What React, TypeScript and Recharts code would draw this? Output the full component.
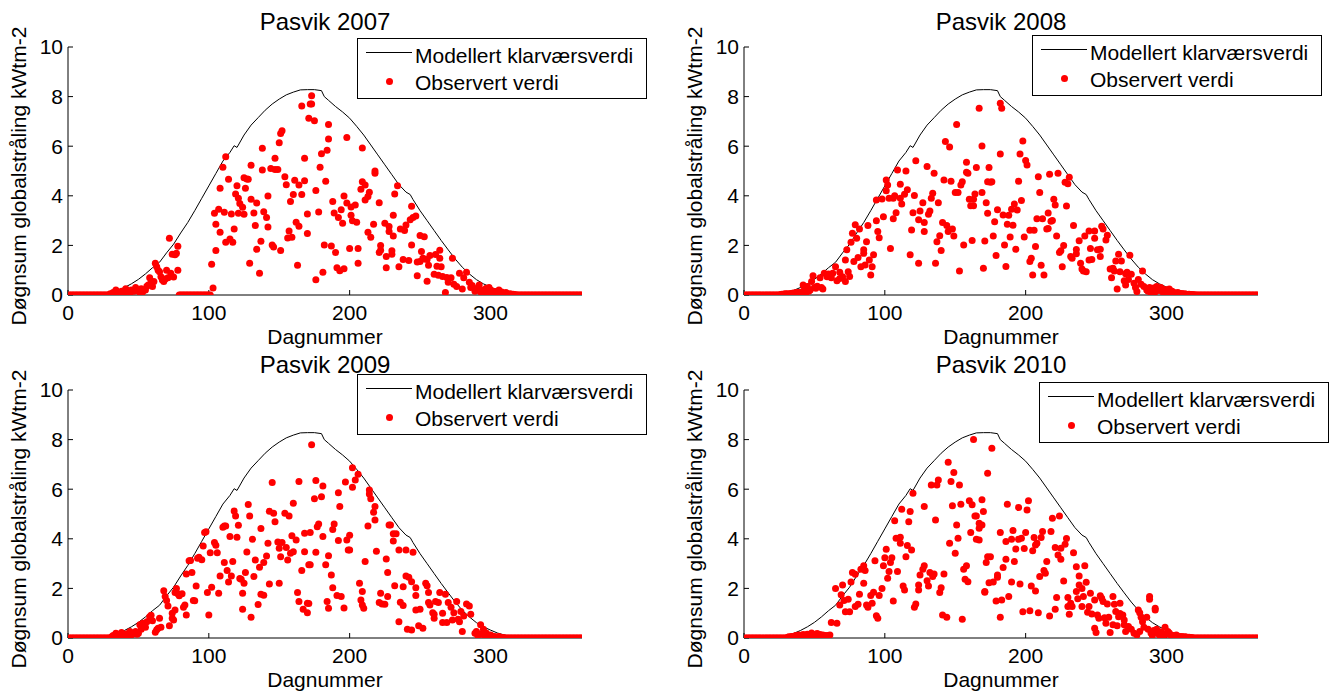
import { ComposedChart, Legend, Line, Scatter, XAxis, YAxis } from "recharts";

const FONT = '"Liberation Sans", Arial, Helvetica, sans-serif';

// modelled clear-sky daily sum, [day, kWh/m2]
const modelCurve = [
  [0, 0], [10, 0], [20, 0.01], [25, 0.03], [30, 0.1], [35, 0.18], [40, 0.3], [45, 0.45], [50, 0.63],
  [55, 0.85], [60, 1.1], [65, 1.32], [70, 1.7], [75, 2.05], [80, 2.5], [85, 2.92], [90, 3.4], [95, 3.9],
  [100, 4.4], [105, 4.9], [110, 5.4], [115, 5.75], [118, 6.02], [120, 5.95], [125, 6.45], [130, 6.85],
  [135, 7.15], [140, 7.45], [145, 7.7], [150, 7.9], [155, 8.07], [160, 8.18], [165, 8.27], [170, 8.28],
  [175, 8.28], [180, 8.24], [182, 8.0], [185, 7.85], [190, 7.6], [195, 7.38], [200, 7.13], [205, 6.8],
  [210, 6.45], [215, 6.05], [220, 5.65], [225, 5.25], [230, 4.85], [235, 4.45], [240, 4.15], [243, 4.05],
  [244, 3.95], [245, 3.85], [250, 3.4], [255, 3.0], [260, 2.6], [265, 2.2], [270, 1.82], [275, 1.45],
  [280, 1.12], [285, 0.85], [290, 0.62], [295, 0.45], [300, 0.32], [305, 0.2], [310, 0.12], [315, 0.06],
  [320, 0.03], [325, 0.01], [330, 0], [365, 0]
];

const xTicks = [0, 100, 200, 300];
const yTicks = [0, 2, 4, 6, 8, 10];

// days with zero observed radiation
const zeros2007 = [
  1, 2, 3, 4, 5, 6, 7, 8, 9, 10, 11, 12, 13, 14, 15, 16, 17, 18, 19, 20, 21, 22, 23, 24, 25, 26, 27, 28, 29,
  79, 80, 81, 82, 83, 84, 85, 86, 87, 88, 89, 90, 91, 92, 93, 94, 95, 96, 97, 98, 99, 100, 101,
  319, 320, 321, 322, 323, 324, 325, 326, 327, 328, 329, 330, 331, 332, 333, 334, 335, 336, 337, 338, 339, 340,
  341, 342, 343, 344, 345, 346, 347, 348, 349, 350, 351, 352, 353, 354, 355, 356, 357, 358, 359, 360, 361, 362,
  363, 364, 365
];
const zeros2008 = [
  1, 2, 3, 4, 5, 6, 7, 8, 9, 10, 11, 12, 13, 14, 15, 16, 17, 18, 19, 20, 21, 22, 23, 24, 25,
  324, 325, 326, 327, 328, 329, 330, 331, 332, 333, 334, 335, 336, 337, 338, 339, 340, 341, 342, 343, 344, 345,
  346, 347, 348, 349, 350, 351, 352, 353, 354, 355, 356, 357, 358, 359, 360, 361, 362, 363, 364, 365
];
const zeros2009 = [
  1, 2, 3, 4, 5, 6, 7, 8, 9, 10, 11, 12, 13, 14, 15, 16, 17, 18, 19, 20, 21, 22, 23, 24, 25, 26, 27, 28, 29, 30,
  312, 313, 314, 315, 316, 317, 318, 319, 320, 321, 322, 323, 324, 325, 326, 327, 328, 329, 330, 331, 332, 333,
  334, 335, 336, 337, 338, 339, 340, 341, 342, 343, 344, 345, 346, 347, 348, 349, 350, 351, 352, 353, 354, 355,
  356, 357, 358, 359, 360, 361, 362, 363, 364, 365
];
const zeros2010 = [
  1, 2, 3, 4, 5, 6, 7, 8, 9, 10, 11, 12, 13, 14, 15, 16, 17, 18, 19, 20, 21, 22, 23, 24, 25, 26, 27, 28, 29, 30,
  320, 321, 322, 323, 324, 325, 326, 327, 328, 329, 330, 331, 332, 333, 334, 335, 336, 337, 338, 339, 340, 341,
  342, 343, 344, 345, 346, 347, 348, 349, 350, 351, 352, 353, 354, 355, 356, 357, 358, 359, 360, 361, 362, 363,
  364, 365
];

// observed daily sums, [day, kWh/m2]
const obs2007 = [
  [30, 0.05], [32, 0.1], [34, 0.2], [35, 0.05], [36, 0.08], [38, 0.15], [40, 0.1], [41, 0.25], [43, 0.12],
  [44, 0.05], [45, 0.2], [47, 0.15], [48, 0.3], [50, 0.18], [51, 0.1], [52, 0.25], [53, 0.12], [55, 0.2],
  [56, 0.35], [57, 0.4], [58, 0.7], [59, 0.5], [60, 0.34], [61, 0.54], [62, 1.28], [63, 1.14], [64, 1.0],
  [65, 0.94], [66, 0.74], [67, 0.6], [68, 0.54], [69, 0.65], [70, 1.0], [71, 0.7], [72, 2.29], [73, 0.88],
  [74, 1.64], [75, 0.73], [76, 1.62], [77, 1.68], [78, 1.97], [78, 1.0],
  [103, 0.28], [102, 1.24], [104, 3.3], [105, 2.85], [105, 1.79], [107, 3.46], [108, 4.3], [108, 2.53],
  [110, 5.15], [111, 3.34], [112, 5.57], [112, 2.13], [114, 4.67], [115, 2.26], [116, 3.27], [117, 2.13],
  [118, 2.66], [119, 4.07], [120, 4.41], [121, 3.3], [121, 3.9], [122, 3.69], [124, 3.54], [125, 3.26],
  [125, 4.73], [126, 4.3], [127, 4.68], [128, 4.67], [129, 1.28], [130, 5.23], [130, 3.86], [132, 3.31],
  [133, 2.8], [134, 3.71], [134, 1.84], [136, 0.88], [137, 2.17], [138, 5.92], [138, 5.04], [139, 3.36],
  [141, 3.12], [142, 2.74], [142, 3.99], [144, 5.1], [145, 2.02], [146, 1.94], [147, 5.06], [147, 5.51],
  [149, 5.06], [150, 6.14], [151, 1.79], [151, 6.51], [152, 6.62], [154, 4.77], [155, 4.45], [156, 2.3],
  [157, 2.58], [158, 3.77], [159, 2.33], [160, 4.05], [161, 4.63], [162, 2.93], [163, 1.2], [164, 2.77],
  [164, 4.44], [166, 7.62], [166, 4.05], [168, 5.51], [168, 4.61], [170, 3.27], [170, 2.48], [171, 7.13],
  [172, 7.7], [173, 8.03], [173, 7.7], [175, 7.03], [185, 6.88], [198, 6.35], [185, 6.29], [209, 5.93],
  [184, 5.84], [180, 5.7], [179, 5.15], [218, 5.0], [218, 4.91], [183, 4.59], [209, 4.57], [234, 4.41],
  [211, 4.44], [176, 4.21], [208, 4.26], [214, 4.14], [232, 4.07], [213, 3.97], [196, 3.99], [211, 3.83],
  [188, 3.77], [198, 3.71], [221, 3.72], [204, 3.63], [201, 3.55], [194, 3.44], [244, 3.58], [178, 3.35],
  [189, 3.31], [192, 3.12], [201, 3.22], [231, 3.22], [247, 3.19], [245, 3.12], [243, 3.03], [202, 2.99],
  [205, 2.93], [195, 2.89], [217, 2.85], [225, 2.89], [236, 2.66], [228, 2.76], [240, 2.82], [239, 2.6],
  [228, 2.56], [213, 2.53], [215, 2.33], [250, 2.4], [253, 2.35], [231, 2.38], [244, 2.02], [182, 2.02],
  [187, 1.98], [222, 2.0], [264, 1.8], [261, 1.63], [257, 1.59], [264, 1.48], [273, 1.48], [200, 1.88],
  [206, 1.88], [190, 1.71], [222, 1.8], [221, 1.71], [230, 1.78], [226, 1.55], [230, 1.64], [251, 1.75],
  [252, 1.48], [238, 1.43], [242, 1.39], [248, 1.33], [250, 1.35], [253, 1.45], [255, 1.43], [206, 1.28],
  [256, 1.2], [262, 1.16], [265, 1.14], [191, 1.1], [193, 0.98], [196, 1.06], [226, 1.1], [235, 1.14],
  [181, 0.92], [176, 0.61], [248, 0.78], [255, 0.55], [260, 0.84], [263, 0.8], [266, 0.75], [269, 0.71],
  [272, 0.7], [270, 0.51], [278, 0.88], [281, 0.7], [283, 0.92], [274, 0.43], [276, 0.34], [280, 0.24],
  [268, 0.1], [285, 0.51], [287, 0.38], [290, 0.24], [292, 0.4], [294, 0.16], [297, 0.27], [300, 0.2],
  [304, 0.14], [309, 0.07], [313, 0.03], [286, 0.3], [289, 0.15], [291, 0.28], [293, 0.12], [295, 0.2],
  [296, 0.1], [298, 0.12], [299, 0.3], [301, 0.1], [302, 0.15], [303, 0.08], [305, 0.1], [306, 0.2],
  [307, 0.05], [308, 0.12], [310, 0.05], [311, 0.1], [312, 0.04], [314, 0.05], [315, 0.02], [316, 0.03],
  [317, 0.02], [318, 0.01]
];

const obs2008 = [
  [26, 0.02], [27, 0.03], [28, 0.02], [29, 0.05], [30, 0.04], [31, 0.05], [32, 0.03], [33, 0.06], [34, 0.05],
  [35, 0.08], [36, 0.06], [37, 0.1], [38, 0.08], [39, 0.1], [40, 0.07], [41, 0.12], [42, 0.4], [43, 0.24],
  [44, 0.1], [45, 0.34], [46, 0.15], [47, 0.2], [48, 0.54], [49, 0.78], [50, 0.3], [51, 0.27], [52, 0.35],
  [54, 0.7], [55, 0.3], [56, 0.24], [57, 0.88], [59, 0.74], [60, 0.85], [62, 0.7], [63, 0.88], [65, 1.14],
  [66, 0.57], [68, 0.67], [68, 0.92], [70, 0.74], [72, 0.54], [74, 0.94], [75, 0.75], [72, 1.41], [73, 1.82],
  [76, 2.13], [77, 2.49], [79, 2.83], [80, 2.29], [82, 2.66], [78, 1.35], [81, 1.51], [83, 1.14], [85, 1.82],
  [85, 1.68], [86, 1.21], [87, 2.15], [88, 2.8], [89, 1.41], [90, 0.81], [91, 1.14], [92, 1.62], [94, 3.83],
  [94, 2.99], [95, 2.56], [96, 2.31], [98, 3.87], [99, 3.16], [101, 4.64], [102, 4.44], [101, 4.2], [103, 3.9],
  [104, 1.88], [106, 3.9], [106, 3.07], [107, 4.0], [108, 3.32], [109, 5.04], [111, 4.47], [111, 3.9],
  [112, 3.67], [114, 4.06], [115, 5.0], [116, 4.24], [118, 1.62], [119, 2.62], [120, 3.32], [121, 4.01],
  [122, 5.41], [124, 3.03], [125, 3.39], [124, 1.28], [127, 3.72], [128, 2.56], [128, 2.92], [130, 5.18],
  [131, 3.26], [132, 3.39], [133, 3.9], [134, 4.1], [135, 4.91], [136, 1.28], [137, 2.15], [138, 3.72],
  [139, 2.39], [140, 1.79], [141, 2.92], [142, 4.64], [143, 6.19], [144, 2.8], [146, 5.97], [145, 2.56],
  [147, 4.59], [148, 2.66], [149, 2.38], [150, 4.13], [151, 6.88], [152, 4.13], [153, 0.97], [154, 4.44],
  [155, 4.57], [156, 2.02], [158, 4.95], [158, 5.35], [159, 4.91], [160, 3.86], [161, 3.6], [162, 2.2],
  [163, 3.86], [163, 3.6], [164, 4.07], [165, 5.14], [167, 7.53], [169, 4.13], [169, 6.01], [170, 1.08],
  [172, 3.72], [173, 4.57], [173, 3.3], [174, 5.14], [182, 7.73], [183, 7.53], [198, 6.21], [182, 5.69],
  [196, 5.69], [200, 5.42], [201, 5.24], [209, 4.77], [217, 4.87], [223, 4.91], [231, 4.75], [228, 4.55],
  [230, 4.49], [176, 4.57], [175, 4.55], [195, 4.59], [210, 4.13], [220, 3.86], [221, 3.63], [229, 3.59],
  [192, 3.67], [197, 3.81], [190, 3.46], [194, 3.43], [180, 3.44], [184, 3.23], [188, 3.22], [216, 3.31],
  [178, 2.95], [187, 2.85], [191, 2.81], [208, 3.07], [212, 3.07], [218, 2.97], [219, 3.0], [215, 2.66],
  [216, 2.68], [203, 2.61], [206, 2.61], [234, 2.8], [245, 2.58], [249, 2.58], [254, 2.77], [255, 2.66],
  [171, 2.18], [177, 2.38], [189, 2.34], [199, 2.34], [222, 2.38], [238, 2.19], [242, 2.38], [249, 2.29],
  [258, 2.41], [257, 2.22], [185, 2.02], [193, 1.84], [207, 1.96], [227, 2.0], [236, 1.83], [236, 1.66],
  [246, 1.87], [251, 1.82], [253, 1.84], [225, 1.78], [224, 1.71], [179, 1.59], [204, 1.48], [203, 1.35],
  [233, 1.48], [232, 1.55], [239, 1.28], [245, 1.41], [247, 1.43], [253, 1.55], [264, 1.37], [268, 1.37],
  [266, 1.64], [274, 1.6], [186, 1.15], [211, 1.2], [226, 1.14], [240, 1.05], [241, 0.97], [243, 0.94],
  [205, 0.81], [213, 0.81], [260, 1.05], [262, 1.08], [263, 0.97], [267, 0.94], [271, 0.86], [272, 0.92],
  [275, 0.84], [283, 0.97], [261, 0.7], [270, 0.57], [271, 0.4], [273, 0.63], [277, 0.47], [278, 0.3],
  [280, 0.63], [282, 0.43], [284, 0.34], [265, 0.24], [279, 0.14], [286, 0.2], [288, 0.3], [290, 0.2],
  [293, 0.34], [295, 0.24], [297, 0.14], [300, 0.16], [302, 0.24], [305, 0.11], [307, 0.07], [309, 0.07],
  [314, 0.03], [287, 0.15], [289, 0.1], [291, 0.28], [292, 0.12], [294, 0.18], [296, 0.3], [298, 0.1],
  [299, 0.22], [301, 0.12], [303, 0.08], [304, 0.15], [306, 0.05], [308, 0.1], [310, 0.04], [311, 0.06],
  [312, 0.03], [313, 0.05], [315, 0.02], [316, 0.03], [317, 0.01], [318, 0.02], [319, 0.01], [320, 0.01],
  [321, 0], [322, 0], [323, 0]
];

const obs2009 = [
  [31, 0.05], [32, 0.1], [33, 0.06], [34, 0.19], [35, 0.1], [36, 0.12], [37, 0.08], [38, 0.22], [39, 0.08],
  [40, 0.12], [41, 0.16], [42, 0.1], [43, 0.18], [44, 0.26], [45, 0.12], [46, 0.16], [47, 0.2], [48, 0.26],
  [49, 0.15], [50, 0.19], [51, 0.53], [52, 0.35], [53, 0.59], [55, 0.43], [56, 0.66], [58, 0.86], [59, 0.92],
  [60, 0.7], [62, 0.23], [63, 0.33], [64, 0.39], [65, 0.8], [66, 0.43], [68, 1.91], [69, 1.67], [70, 1.51],
  [71, 1.29], [72, 0.49], [74, 1.0], [74, 0.8], [75, 0.73], [76, 1.13], [76, 1.83], [77, 2.0], [78, 1.78],
  [79, 1.7], [81, 1.78], [82, 1.24], [83, 1.33], [84, 0.93], [86, 3.11], [87, 3.12], [84, 2.58], [88, 2.64],
  [89, 1.51], [90, 1.5], [91, 2.1], [92, 3.22], [93, 3.26], [95, 3.16], [96, 3.71], [97, 4.25], [98, 4.28],
  [100, 0.93], [99, 1.83], [101, 3.44], [102, 2.05], [104, 3.85], [105, 3.74], [106, 3.44], [107, 1.8],
  [108, 2.5], [110, 4.47], [111, 4.52], [111, 3.04], [112, 4.52], [113, 2.72], [114, 2.26], [115, 4.09],
  [116, 2.5], [117, 3.08], [118, 5.12], [119, 4.92], [120, 4.06], [121, 4.55], [122, 2.4], [123, 2.37],
  [124, 1.8], [124, 1.16], [125, 2.21], [126, 2.64], [127, 3.47], [128, 5.38], [129, 4.92], [130, 0.84],
  [131, 3.98], [132, 2.48], [133, 3.15], [135, 1.35], [136, 2.85], [137, 4.42], [137, 1.76], [139, 1.72],
  [139, 3.04], [141, 3.31], [142, 3.82], [143, 5.11], [143, 2.18], [145, 6.27], [146, 5.03], [147, 4.69],
  [149, 3.87], [150, 2.21], [150, 3.62], [152, 3.85], [151, 3.28], [154, 5.03], [155, 3.65], [156, 3.15],
  [157, 4.92], [158, 3.42], [159, 4.12], [160, 3.48], [160, 5.43], [162, 3.95], [163, 1.83], [164, 6.31],
  [164, 1.47], [166, 2.72], [167, 1.16], [168, 4.22], [170, 1.02], [170, 1.4], [171, 2.95], [173, 7.79],
  [176, 6.35], [181, 6.13], [175, 5.61], [180, 5.7], [197, 6.29], [202, 6.08], [202, 6.86], [204, 6.37],
  [206, 6.6], [192, 5.86], [193, 5.3], [214, 5.97], [214, 5.81], [215, 5.61], [218, 5.3], [217, 5.07],
  [218, 4.76], [213, 4.52], [228, 4.56], [229, 4.56], [231, 4.2], [233, 4.2], [231, 3.91], [178, 4.6],
  [177, 4.49], [172, 4.25], [189, 4.6], [188, 4.38], [181, 4.09], [200, 4.14], [198, 3.95], [192, 3.93],
  [199, 3.55], [200, 3.55], [185, 3.32], [168, 3.48], [176, 3.46], [219, 3.5], [235, 3.55], [240, 3.55],
  [245, 3.46], [226, 3.19], [211, 3.08], [172, 2.95], [183, 2.95], [227, 2.64], [187, 2.54], [240, 2.5],
  [242, 2.45], [244, 2.27], [254, 2.21], [255, 2.11], [207, 2.21], [188, 2.03], [232, 2.11], [238, 2.07],
  [247, 2.03], [209, 1.88], [256, 1.83], [264, 1.83], [268, 1.76], [191, 1.71], [194, 1.67], [222, 1.8],
  [227, 1.67], [247, 1.71], [171, 1.39], [184, 1.47], [208, 1.53], [221, 1.43], [223, 1.37], [225, 1.36],
  [236, 1.44], [238, 1.31], [256, 1.43], [257, 1.33], [261, 1.47], [263, 1.43], [270, 1.43], [276, 1.47],
  [283, 1.37], [285, 1.29], [185, 1.2], [196, 1.21], [209, 1.33], [210, 1.2], [247, 1.13], [250, 1.16],
  [259, 1.02], [260, 0.96], [266, 1.0], [272, 1.24], [274, 1.02], [279, 1.07], [286, 0.96], [281, 0.89],
  [260, 0.8], [266, 0.62], [269, 0.62], [273, 0.73], [277, 0.76], [278, 0.66], [235, 0.66], [241, 0.35],
  [244, 0.32], [249, 0.49], [252, 0.39], [280, 0.26], [293, 0.53], [295, 0.35], [289, 0.19], [290, 0.26],
  [292, 0.16], [298, 0.06], [300, 0.12], [306, 0.06], [291, 0.1], [294, 0.15], [296, 0.08], [297, 0.2],
  [299, 0.05], [301, 0.08], [302, 0.04], [303, 0.06], [304, 0.02], [305, 0.03], [307, 0.02], [308, 0.01],
  [309, 0.02], [310, 0], [311, 0]
];

const obs2010 = [
  [31, 0.03], [32, 0.05], [33, 0.04], [34, 0.06], [35, 0.05], [36, 0.08], [37, 0.1], [38, 0.07], [39, 0.12],
  [40, 0.09], [41, 0.1], [42, 0.14], [43, 0.08], [44, 0.12], [45, 0.15], [46, 0.1], [47, 0.13], [48, 0.2],
  [49, 0.12], [50, 0.1], [51, 0.15], [52, 0.18], [53, 0.1], [54, 0.14], [55, 0.08], [56, 0.12], [57, 0.06],
  [58, 0.1], [59, 0.08], [60, 0.1], [61, 0.12], [62, 0.62], [66, 0.59], [65, 2.0], [70, 2.14], [69, 1.74],
  [68, 1.33], [71, 1.51], [72, 1.06], [75, 1.06], [74, 1.56], [76, 2.26], [77, 2.64], [79, 2.57], [79, 1.27],
  [81, 1.36], [82, 1.76], [83, 2.77], [85, 2.91], [86, 2.72], [85, 2.21], [87, 1.33], [88, 1.24], [90, 1.71],
  [91, 1.4], [92, 1.84], [93, 3.11], [94, 0.9], [95, 0.8], [96, 1.71], [98, 2.0], [99, 2.91], [100, 3.24],
  [101, 3.58], [102, 2.41], [103, 2.68], [104, 3.04], [105, 3.24], [106, 1.49], [107, 4.73], [108, 4.02],
  [109, 2.68], [111, 3.82], [111, 4.06], [112, 5.19], [113, 2.1], [114, 1.94], [115, 3.28], [116, 3.73],
  [117, 4.69], [118, 5.1], [119, 3.55], [120, 5.84], [121, 1.24], [122, 1.37], [124, 1.94], [124, 2.14],
  [125, 2.54], [127, 2.77], [128, 5.3], [128, 2.91], [130, 2.31], [131, 2.1], [132, 2.64], [133, 6.17],
  [134, 2.48], [135, 2.58], [136, 4.76], [137, 6.17], [138, 6.37], [139, 1.83], [140, 2.03], [141, 0.93],
  [142, 2.58], [144, 0.84], [145, 7.09], [146, 3.82], [147, 6.31], [148, 5.33], [149, 6.67], [150, 3.42],
  [151, 4.56], [152, 4.02], [153, 6.17], [154, 5.39], [155, 0.76], [156, 2.77], [157, 2.37], [158, 2.91],
  [159, 2.27], [160, 5.53], [161, 4.25], [162, 5.37], [163, 8.0], [164, 4.92], [165, 3.98], [165, 4.92],
  [167, 4.43], [167, 4.63], [169, 5.57], [170, 5.1], [171, 1.84], [172, 3.04], [173, 6.64], [173, 3.28],
  [174, 2.23], [176, 7.65], [169, 4.56], [167, 3.95], [175, 3.28], [180, 2.54], [177, 2.26], [171, 1.87],
  [179, 1.49], [182, 0.84], [183, 1.53], [182, 4.25], [187, 5.39], [186, 3.89], [190, 3.98], [191, 4.33],
  [193, 3.59], [195, 5.26], [195, 3.98], [197, 4.02], [199, 3.61], [201, 5.16], [202, 5.53], [200, 4.25],
  [205, 3.52], [206, 4.05], [207, 3.75], [208, 3.82], [211, 4.05], [212, 4.29], [218, 4.29], [219, 4.83],
  [224, 4.92], [221, 3.65], [223, 3.35], [225, 3.18], [225, 3.62], [228, 3.78], [229, 4.01], [234, 3.44],
  [186, 3.18], [192, 3.08], [184, 2.84], [180, 2.45], [215, 3.08], [213, 2.72], [214, 2.61], [210, 2.48],
  [236, 2.87], [242, 2.91], [238, 2.5], [238, 2.14], [243, 2.25], [227, 2.3], [190, 2.26], [196, 2.18],
  [204, 2.1], [207, 1.9], [236, 1.87], [240, 2.0], [246, 1.8], [241, 1.67], [253, 1.7], [254, 1.6],
  [262, 1.67], [188, 1.67], [222, 1.63], [230, 1.63], [232, 1.4], [233, 1.27], [237, 1.58], [249, 1.53],
  [255, 1.47], [258, 1.37], [263, 1.36], [267, 1.4], [288, 1.67], [288, 1.56], [240, 1.27], [244, 1.04],
  [245, 1.27], [247, 0.97], [251, 0.93], [252, 0.8], [256, 0.82], [259, 0.84], [264, 1.07], [266, 0.86],
  [267, 0.99], [269, 0.93], [270, 0.73], [270, 0.53], [280, 1.13], [281, 1.02], [282, 0.84], [283, 0.66],
  [286, 0.84], [292, 1.13], [292, 1.2], [198, 1.06], [203, 1.1], [209, 1.02], [217, 0.89], [221, 1.16],
  [230, 1.27], [231, 0.96], [249, 0.39], [250, 0.22], [257, 0.59], [260, 0.22], [262, 0.53], [265, 0.49],
  [271, 0.26], [273, 0.46], [275, 0.35], [277, 0.19], [279, 0.12], [281, 0.26], [284, 0.43], [287, 0.35],
  [293, 0.35], [295, 0.12], [297, 0.19], [299, 0.43], [301, 0.26], [303, 0.12], [307, 0.12], [309, 0.06],
  [314, 0.04], [289, 0.2], [290, 0.1], [291, 0.3], [294, 0.18], [296, 0.25], [298, 0.1], [300, 0.15],
  [302, 0.2], [304, 0.08], [305, 0.1], [306, 0.05], [308, 0.08], [310, 0.04], [311, 0.06], [312, 0.03],
  [313, 0.05], [315, 0.02], [316, 0.03], [317, 0.01], [318, 0.02], [319, 0]
];

type Pt = { d: number; v: number };

const toPts = (pairs: number[][]): Pt[] => pairs.map(([d, v]) => ({ d, v }));
const modelData = toPts(modelCurve);

const tickStyle = { fill: "#000", fontSize: 21, fontFamily: FONT };

function LegendBox() {
  return (
    <div
      style={{
        position: "relative",
        width: 290,
        height: 61,
        boxSizing: "border-box",
        border: "1px solid #000",
        background: "#fff",
        fontFamily: FONT,
        fontSize: 21,
        color: "#000",
        lineHeight: "21px",
        whiteSpace: "nowrap"
      }}
    >
      <svg width={60} height={59} style={{ position: "absolute", left: 0, top: 0 }}>
        <line x1={8} y1={13.5} x2={54} y2={13.5} stroke="#000" strokeWidth={1} />
        <circle cx={31.5} cy={42.5} r={3.5} fill="#ff0000" />
      </svg>
      <div style={{ position: "absolute", left: 57, top: 5.5 }}>Modellert klarværsverdi</div>
      <div style={{ position: "absolute", left: 57, top: 33 }}>Observert verdi</div>
    </div>
  );
}

type PanelProps = {
  left: number;
  top: number;
  title: string;
  observed: number[][];
  zeros: number[];
  legendLeft: number;
  legendTop: number;
};

function Panel({ left, top, title, observed, zeros, legendLeft, legendTop }: PanelProps) {
  const points: Pt[] = [...zeros.map((d) => ({ d, v: 0 })), ...toPts(observed)];
  return (
    <div style={{ position: "absolute", left, top, width: 668, height: 345 }}>
      <ComposedChart width={668} height={345} margin={{ top: 47, right: 86, bottom: 20, left: 28 }}>
        <XAxis
          dataKey="d"
          type="number"
          domain={[0, 365]}
          ticks={xTicks}
          allowDataOverflow
          stroke="#000"
          tickSize={-5}
          tickMargin={15}
          tick={tickStyle}
          height={30}
        />
        <XAxis
          xAxisId="top"
          orientation="top"
          type="number"
          domain={[0, 365]}
          ticks={xTicks}
          allowDataOverflow
          stroke="#000"
          tickSize={-5}
          tick={false}
          height={0}
        />
        <YAxis
          type="number"
          domain={[0, 10]}
          ticks={yTicks}
          allowDataOverflow
          stroke="#000"
          tickSize={-5}
          tickMargin={10}
          tick={tickStyle}
          width={40}
        />
        <YAxis
          yAxisId="right"
          orientation="right"
          type="number"
          domain={[0, 10]}
          ticks={yTicks}
          allowDataOverflow
          stroke="#000"
          tickSize={-5}
          tick={false}
          width={0}
        />
        <Legend
          layout="horizontal"
          verticalAlign="middle"
          align="center"
          wrapperStyle={{ left: legendLeft, top: legendTop, width: 290 }}
          content={() => <LegendBox />}
        />
        <Line
          data={modelData}
          dataKey="v"
          type="linear"
          stroke="#000"
          strokeWidth={1}
          dot={false}
          isAnimationActive={false}
        />
        <Scatter
          data={points}
          dataKey="v"
          isAnimationActive={false}
          shape={(p: any) => <circle cx={p.cx} cy={p.cy} r={3.5} fill="#ff0000" />}
        />
      </ComposedChart>
      <div
        style={{
          position: "absolute",
          left: 0,
          width: 650,
          top: 9.7,
          textAlign: "center",
          fontFamily: FONT,
          fontSize: 24,
          lineHeight: "24px"
        }}
      >
        {title}
      </div>
      <div
        style={{
          position: "absolute",
          left: 0,
          width: 650,
          top: 326,
          textAlign: "center",
          fontFamily: FONT,
          fontSize: 21,
          lineHeight: "21px"
        }}
      >
        Dagnummer
      </div>
      <div
        style={{
          position: "absolute",
          left: 17.7,
          top: 176,
          transform: "translate(-50%, -50%) rotate(-90deg)",
          whiteSpace: "nowrap",
          fontFamily: FONT,
          fontSize: 21,
          lineHeight: "21px"
        }}
      >
        Døgnsum globalstråling kWtm-2
      </div>
    </div>
  );
}

export default function App() {
  return (
    <div style={{ position: "absolute", left: 0, top: 0, width: 1336, height: 697, background: "#fff", overflow: "hidden" }}>
      <Panel left={0} top={0} title="Pasvik 2007" observed={obs2007} zeros={zeros2007} legendLeft={357} legendTop={38} />
      <Panel left={676} top={0} title="Pasvik 2008" observed={obs2008} zeros={zeros2008} legendLeft={356} legendTop={35} />
      <Panel left={0} top={343} title="Pasvik 2009" observed={obs2009} zeros={zeros2009} legendLeft={357} legendTop={31} />
      <Panel left={676} top={343} title="Pasvik 2010" observed={obs2010} zeros={zeros2010} legendLeft={363} legendTop={39} />
    </div>
  );
}
